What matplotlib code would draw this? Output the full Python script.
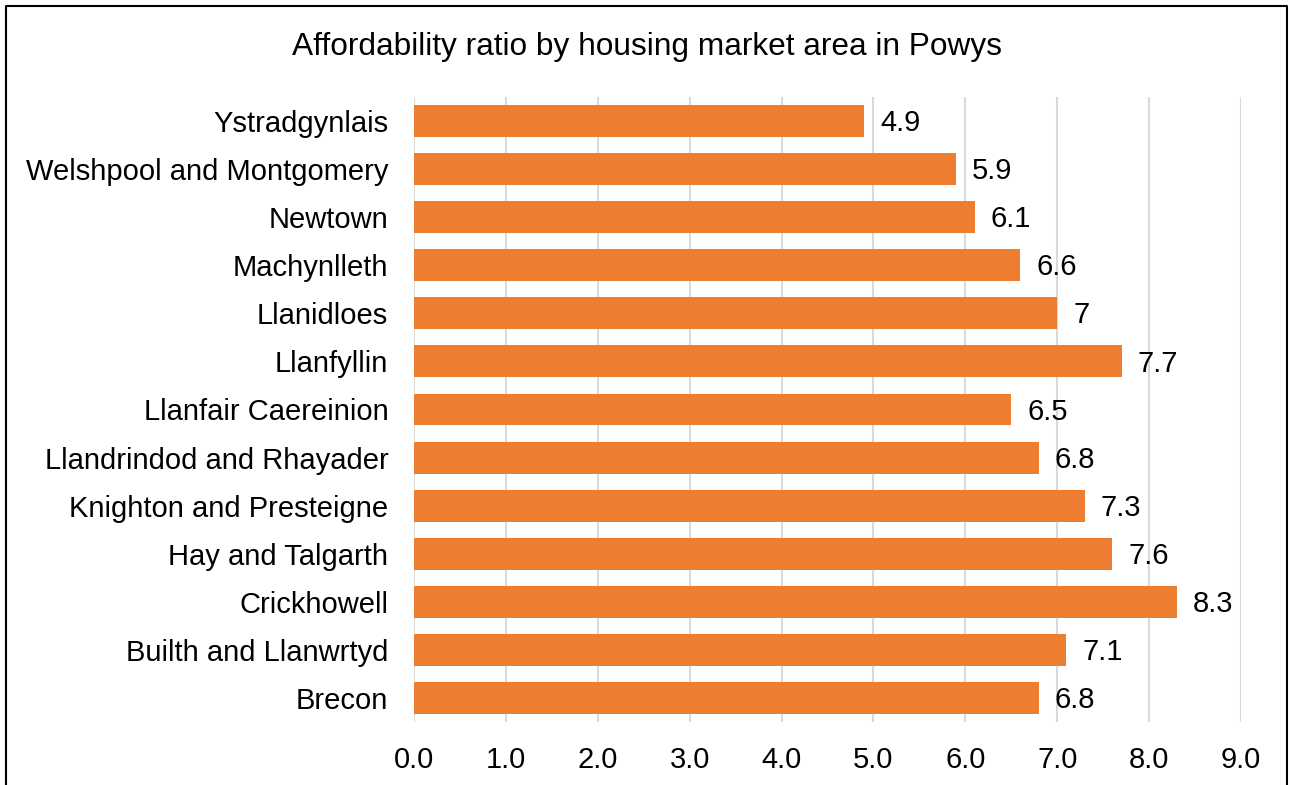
import matplotlib
matplotlib.use("Agg")
import matplotlib.pyplot as plt
from matplotlib.lines import Line2D

plt.rcParams['font.family'] = ['Liberation Sans', 'DejaVu Sans']

TITLE = "Affordability ratio by housing market area in Powys"

areas = ["Ystradgynlais", "Welshpool and Montgomery", "Newtown", "Machynlleth",
         "Llanidloes", "Llanfyllin", "Llanfair Caereinion", "Llandrindod and Rhayader",
         "Knighton and Presteigne", "Hay and Talgarth", "Crickhowell",
         "Builth and Llanwrtyd", "Brecon"]
ratios = [4.9, 5.9, 6.1, 6.6, 7.0, 7.7, 6.5, 6.8, 7.3, 7.6, 8.3, 7.1, 6.8]
value_labels = ["4.9", "5.9", "6.1", "6.6", "7", "7.7", "6.5", "6.8", "7.3", "7.6", "8.3", "7.1", "6.8"]
x_ticks = [0, 1, 2, 3, 4, 5, 6, 7, 8, 9]

W, H = 1290, 785
FS = 21
fig = plt.figure(figsize=(W / 100, H / 100), dpi=100)
ax = fig.add_axes([414 / W, 63 / H, (1241 - 414) / W, (722 - 97) / H])

ypos = list(range(len(areas)))
ax.barh(ypos, ratios, height=0.665, color="#ED7D31", zorder=2)
ax.set_ylim(len(areas) - 0.5, -0.5)
ax.set_xlim(0, 9)

# data labels just right of each bar
for y, v, lab in zip(ypos, ratios, value_labels):
    ax.annotate(lab, (v, y), xytext=(11.5, -1.5), textcoords="offset points",
                va="center", ha="left", fontsize=FS, color="black")

ax.set_yticks(ypos)
ax.set_yticklabels(areas, fontsize=FS)
ax.set_xticks(x_ticks)
ax.set_xticklabels([f"{t:.1f}" for t in x_ticks], fontsize=FS)
ax.tick_params(axis="y", length=0, pad=18.5)
ax.tick_params(axis="x", length=0, pad=17)
ax.grid(axis="x", color="#D9D9D9", linewidth=1.5, zorder=0)
for s in ax.spines.values():
    s.set_visible(False)

fig.text(647 / W, 1 - 47 / H, TITLE, ha="center", va="center", fontsize=22.8)

# outer chart border (bottom edge cut off)
bx0, bx1, by1 = 6 / W, 1287 / W, 1 - 6 / H
fig.add_artist(Line2D([bx0, bx0, bx1, bx1], [0, by1, by1, 0],
                      transform=fig.transFigure, color="black", linewidth=1.5))

fig.savefig("out.png", dpi=100)
